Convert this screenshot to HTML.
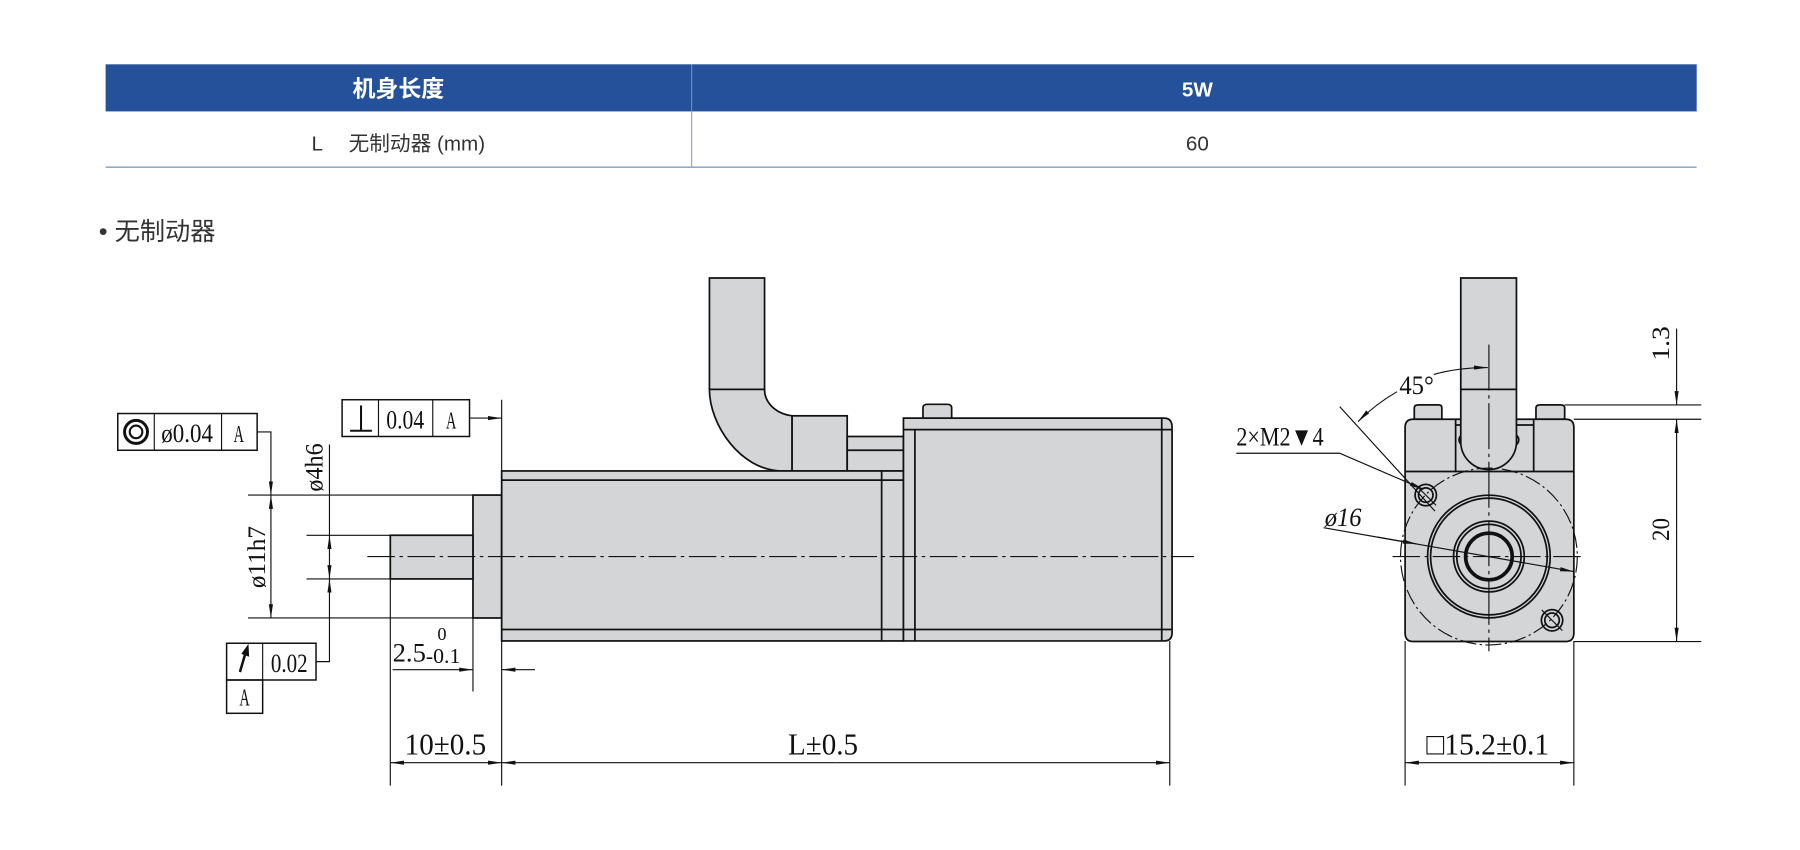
<!DOCTYPE html>
<html><head><meta charset="utf-8"><style>
html,body{margin:0;padding:0;background:#fff;width:1800px;height:850px;overflow:hidden}
svg{display:block}
.cn{font-family:"Liberation Sans","Noto Sans CJK SC",sans-serif}
.d{font-family:"Liberation Serif","Noto Serif CJK SC",serif;fill:#111}
</style></head><body>
<svg width="1800" height="850" viewBox="0 0 1568 740" preserveAspectRatio="none" xmlns="http://www.w3.org/2000/svg">
<defs>
<marker id="a" viewBox="0 0 12 6" refX="12" refY="3" markerWidth="12" markerHeight="6" markerUnits="userSpaceOnUse" orient="auto"><path d="M0,1.2L12,3L0,4.8z" fill="#111"/></marker>
</defs>
<!-- table -->
<rect x="92" y="56" width="1386" height="41" fill="#24519a"/>
<line x1="602.5" y1="56" x2="602.5" y2="97" stroke="#6b8cc4" stroke-width="1"/>
<line x1="602.5" y1="97" x2="602.5" y2="145" stroke="#8ea4cf" stroke-width="1"/>
<line x1="92" y1="145.5" x2="1478" y2="145.5" stroke="#7f9bc9" stroke-width="1.2"/>
<text x="347" y="84" text-anchor="middle" class="cn" font-size="20" font-weight="bold" fill="#fff">机身长度</text>
<text x="1043" y="84" text-anchor="middle" class="cn" font-size="18" font-weight="bold" fill="#fff">5W</text>
<text x="347" y="131" text-anchor="middle" class="cn" font-size="18" fill="#333">L　 无制动器 (mm)</text>
<text x="1043" y="131" text-anchor="middle" class="cn" font-size="18" fill="#333">60</text>
<text x="86" y="209" class="cn" font-size="22" fill="#333">• 无制动器</text>

<g stroke="#111" stroke-width="1.5" fill="#d4d5d7">
<!-- side view -->
<path d="M618,242H666V339H618Z"/>
<path d="M618,339C618,370 645,409 680,410H690V362C675,360 666,350 666,339Z"/>
<rect x="690" y="362" width="48" height="48"/>
<rect x="738" y="380" width="49" height="30"/>
<line x1="738" y1="392" x2="787" y2="392"/>
<rect x="412" y="431" width="25" height="107"/>
<rect x="340" y="466" width="72" height="38"/>
<rect x="437" y="410" width="350" height="148"/>
<line x1="437" y1="418" x2="787" y2="418"/>
<line x1="437" y1="548" x2="787" y2="548"/>
<line x1="768" y1="410" x2="768" y2="558"/>
<path d="M787,364H1014Q1021,364 1021,372V551Q1021,558 1014,558H787Z"/>
<line x1="787" y1="374" x2="1021" y2="374"/>
<line x1="787" y1="548" x2="1021" y2="548"/>
<line x1="797" y1="374" x2="797" y2="558"/>
<line x1="1012" y1="364" x2="1012" y2="558"/>
<path d="M804,364V355Q804,352 808,352H825Q829,352 829,355V364Z"/>
<!-- end view -->
<path d="M1232,365V355Q1232,352.5 1236,352.5H1253Q1256,352.5 1256,355V365Z"/>
<path d="M1338,365V355Q1338,352.5 1342,352.5H1359Q1363,352.5 1363,355V365Z"/>
<path d="M1231,365H1364Q1371,365 1371,372V551Q1371,558.5 1364,558.5H1231Q1224,558.5 1224,551V372Q1224,365 1231,365Z"/>
<line x1="1224" y1="410.5" x2="1371" y2="410.5"/>
<line x1="1268" y1="365" x2="1268" y2="410.5"/>
<line x1="1336" y1="365" x2="1336" y2="410.5"/>
<line x1="1268" y1="370" x2="1336" y2="370"/>
<circle cx="1276" cy="383" r="5"/><circle cx="1318" cy="383" r="5"/>
<path d="M1272.5,242H1321V386A24.3,24.3 0 0 1 1272.5,386Z"/>
<line x1="1272.5" y1="339" x2="1321" y2="339"/>
<circle cx="1297" cy="484.5" r="53.4" fill="none"/>
<circle cx="1297" cy="484.5" r="50.8" fill="none"/>
<circle cx="1297" cy="484.5" r="30.8" fill="none"/>
<circle cx="1297" cy="484.5" r="28" fill="none"/>
<circle cx="1297" cy="484.5" r="20.3" fill="none" stroke-width="3.2"/>
<circle cx="1242" cy="431" r="9.3" fill="none"/><circle cx="1242" cy="431" r="6.3" fill="none"/>
<circle cx="1352" cy="540" r="9.3" fill="none"/><circle cx="1352" cy="540" r="6.3" fill="none"/>
</g>
<g stroke="#111" stroke-width="1" fill="none">
<circle cx="1297" cy="484.5" r="77" stroke-dasharray="14,3,2,3"/>
<line x1="320" y1="484.5" x2="1040" y2="484.5" stroke-dasharray="24,4,3,4"/>
<line x1="1213" y1="484.5" x2="1380" y2="484.5" stroke-dasharray="24,4,3,4"/>
<line x1="1297" y1="300" x2="1297" y2="567" stroke-dasharray="40,4,3,4"/>
<line x1="1233" y1="422" x2="1251" y2="440"/><line x1="1343" y1="531" x2="1361" y2="549"/>
<line x1="1167" y1="354" x2="1250" y2="445"/>
<path d="M1217,341Q1198,352 1183,367" marker-end="url(#a)"/>
<path d="M1249,326Q1270,320 1296,320" marker-end="url(#a)"/>
<path d="M1077,394.6H1167L1240,426" marker-end="url(#a)"/>
<line x1="1153" y1="459.4" x2="1371" y2="497.6" marker-end="url(#a)"/>
<line x1="1200" y1="467.6" x2="1234" y2="473.5" marker-end="url(#a)"/>
<line x1="1363" y1="352.5" x2="1482" y2="352.5"/>
<line x1="1371" y1="365" x2="1482" y2="365"/>
<line x1="1371" y1="558.5" x2="1482" y2="558.5"/>
<line x1="1460.5" y1="286" x2="1460.5" y2="352.5" marker-end="url(#a)"/>
<line x1="1460.5" y1="460" x2="1460.5" y2="365" marker-end="url(#a)"/>
<line x1="1460.5" y1="460" x2="1460.5" y2="558.5" marker-end="url(#a)"/>
<line x1="1224" y1="558" x2="1224" y2="684"/><line x1="1371" y1="558" x2="1371" y2="684"/>
<line x1="1297" y1="664" x2="1224" y2="664" marker-end="url(#a)"/>
<line x1="1297" y1="664" x2="1371" y2="664" marker-end="url(#a)"/>
<line x1="340" y1="504" x2="340" y2="684"/><line x1="437" y1="348" x2="437" y2="684"/>
<line x1="1019" y1="558" x2="1019" y2="684"/>
<line x1="388" y1="664" x2="340" y2="664" marker-end="url(#a)"/>
<line x1="388" y1="664" x2="437" y2="664" marker-end="url(#a)"/>
<line x1="728" y1="664" x2="437" y2="664" marker-end="url(#a)"/>
<line x1="728" y1="664" x2="1019" y2="664" marker-end="url(#a)"/>
<line x1="412" y1="538" x2="412" y2="602"/>
<line x1="342" y1="583" x2="412" y2="583" marker-end="url(#a)"/>
<line x1="466" y1="583" x2="437" y2="583" marker-end="url(#a)"/>
<line x1="216" y1="431" x2="412" y2="431"/><line x1="216" y1="538" x2="412" y2="538"/>
<line x1="267" y1="466" x2="340" y2="466"/><line x1="267" y1="504" x2="340" y2="504"/>
<line x1="236" y1="484" x2="236" y2="431" marker-end="url(#a)"/>
<line x1="236" y1="484" x2="236" y2="538" marker-end="url(#a)"/>
<path d="M224,376H236V431" marker-end="url(#a)"/>
<line x1="287" y1="387" x2="287" y2="466"/>
<line x1="287" y1="485" x2="287" y2="466" marker-end="url(#a)"/>
<line x1="287" y1="485" x2="287" y2="504" marker-end="url(#a)"/>
<path d="M275,576H287V504" marker-end="url(#a)"/>
<line x1="409" y1="364" x2="437" y2="364" marker-end="url(#a)"/>
<rect x="102.6" y="360" width="121.4" height="32" stroke-width="1.3"/>
<line x1="134.4" y1="360" x2="134.4" y2="392"/><line x1="193" y1="360" x2="193" y2="392"/>
<circle cx="118.5" cy="376" r="10" stroke-width="2.6"/><circle cx="118.5" cy="376" r="5.5" stroke-width="1.8"/>
<rect x="298" y="348" width="111" height="32" stroke-width="1.3"/>
<line x1="329.7" y1="348" x2="329.7" y2="380"/><line x1="377" y1="348" x2="377" y2="380"/>
<line x1="305" y1="375" x2="324" y2="375" stroke-width="1.8"/><line x1="314.5" y1="353" x2="314.5" y2="375" stroke-width="1.8"/>
<rect x="197.4" y="560" width="77.9" height="32" stroke-width="1.3"/>
<rect x="197.4" y="592" width="31.4" height="29" stroke-width="1.3"/>
<line x1="228.8" y1="560" x2="228.8" y2="592"/>
<line x1="209" y1="585" x2="214" y2="568" stroke-width="2.2"/>
<path d="M211,569L216,562L216.5,571Z" fill="#111"/>
</g>
<g class="d">
<text x="163" y="385" text-anchor="middle" font-size="23" textLength="45" lengthAdjust="spacingAndGlyphs">ø0.04</text>
<text x="208" y="385" text-anchor="middle" font-size="21" textLength="9" lengthAdjust="spacingAndGlyphs">A</text>
<text x="353" y="373" text-anchor="middle" font-size="23" textLength="33" lengthAdjust="spacingAndGlyphs">0.04</text>
<text x="393" y="373" text-anchor="middle" font-size="21" textLength="9" lengthAdjust="spacingAndGlyphs">A</text>
<text x="252" y="585" text-anchor="middle" font-size="23" textLength="32" lengthAdjust="spacingAndGlyphs">0.02</text>
<text x="213" y="614" text-anchor="middle" font-size="21" textLength="9" lengthAdjust="spacingAndGlyphs">A</text>
<text transform="translate(281,407) rotate(-90)" text-anchor="middle" font-size="22" textLength="42" lengthAdjust="spacingAndGlyphs">ø4h6</text>
<text transform="translate(231,485) rotate(-90)" text-anchor="middle" font-size="22" textLength="54" lengthAdjust="spacingAndGlyphs">ø11h7</text>
<text x="342" y="576" font-size="23" textLength="29" lengthAdjust="spacingAndGlyphs">2.5</text>
<text x="381" y="557" font-size="16">0</text>
<text x="371" y="577" font-size="18" textLength="30" lengthAdjust="spacingAndGlyphs">-0.1</text>
<text x="388" y="657" text-anchor="middle" font-size="27" textLength="71" lengthAdjust="spacingAndGlyphs">10±0.5</text>
<text x="717" y="657" text-anchor="middle" font-size="27" textLength="61" lengthAdjust="spacingAndGlyphs">L±0.5</text>
<text x="1296" y="657" text-anchor="middle" font-size="27" textLength="107" lengthAdjust="spacingAndGlyphs">□15.2±0.1</text>
<text x="1234" y="343" text-anchor="middle" font-size="23" textLength="30" lengthAdjust="spacingAndGlyphs">45°</text>
<text x="1077" y="388" font-size="23" textLength="76" lengthAdjust="spacingAndGlyphs">2×M2▼4</text>
<text x="1154" y="458" font-size="23" font-style="italic" textLength="32" lengthAdjust="spacingAndGlyphs">ø16</text>
<text transform="translate(1454,299) rotate(-90)" text-anchor="middle" font-size="22" textLength="30" lengthAdjust="spacingAndGlyphs">1.3</text>
<text transform="translate(1454,461) rotate(-90)" text-anchor="middle" font-size="22" textLength="20" lengthAdjust="spacingAndGlyphs">20</text>
</g>
</svg>
</body></html>
